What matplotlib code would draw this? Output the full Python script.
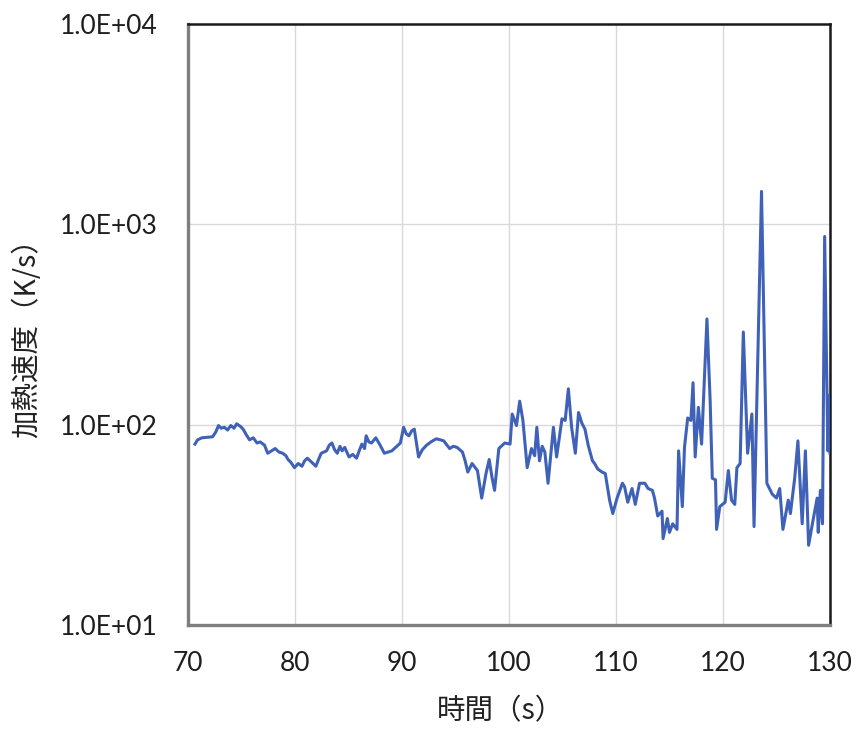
import matplotlib
matplotlib.use("Agg")
import matplotlib.pyplot as plt
from matplotlib.ticker import FixedLocator, FixedFormatter, NullLocator

time_s = [70.65, 70.9, 71.3, 72.3, 72.6, 72.85, 73.1, 73.4, 73.7, 74.0, 74.3, 74.55, 74.9,
          75.15, 75.45, 75.75, 76.1, 76.45, 76.75, 77.15, 77.45, 77.8, 78.15, 78.5, 78.85,
          79.15, 79.35, 79.6, 79.95, 80.3, 80.65, 80.9, 81.15, 81.55, 81.95, 82.2, 82.45,
          82.95, 83.2, 83.45, 83.7, 83.95, 84.2, 84.4, 84.65, 85.05, 85.4, 85.75, 86.0,
          86.25, 86.5, 86.65, 86.9, 87.15, 87.55, 87.9, 88.35, 88.7, 89.05, 89.4, 89.85,
          90.15, 90.4, 90.65, 90.9, 91.15, 91.55, 91.9, 92.3, 92.7, 93.2, 93.6, 93.9,
          94.45, 94.8, 95.15, 95.65, 95.9, 96.15, 96.55, 97.05, 97.45, 97.85, 98.15, 98.4,
          98.65, 99.05, 99.6, 100.1, 100.3, 100.7, 101.0, 101.3, 101.7, 102.1, 102.4, 102.6,
          102.85, 103.1, 103.35, 103.65, 104.15, 104.45, 104.95, 105.25, 105.55, 105.85,
          106.2, 106.5, 106.8, 107.1, 107.4, 107.8, 108.0, 108.3, 108.7, 109.0, 109.2,
          109.4, 109.7, 110.1, 110.6, 110.8, 111.1, 111.5, 111.8, 112.2, 112.7, 113.0,
          113.4, 113.6, 113.9, 114.3, 114.4, 114.8, 115.0, 115.3, 115.7, 115.85, 116.2,
          116.4, 116.7, 117.0, 117.2, 117.4, 117.7, 118.0, 118.5, 118.8, 119.0, 119.3,
          119.4, 119.7, 120.2, 120.5, 120.8, 121.1, 121.3, 121.6, 121.9, 122.3, 122.7,
          122.9, 123.6, 124.1, 124.6, 125.0, 125.3, 125.6, 126.1, 126.3, 126.7, 127.0,
          127.4, 127.7, 128.0, 128.4, 128.8, 128.9, 129.1, 129.3, 129.5, 129.8, 129.9, 130.0]

heating_rate = [80, 84, 86, 87, 92, 99, 96, 97, 94, 99, 96, 101, 98,
                95, 89, 84, 86, 81, 82, 79, 72, 74, 76, 73, 72,
                70, 67, 65, 61, 64, 62, 66, 68, 65, 62, 67, 72,
                74, 79, 81, 75, 72, 78, 74, 77, 69, 71, 68, 74,
                80, 76, 88, 82, 81, 86, 80, 72, 73, 74, 77, 81,
                97, 90, 88, 93, 95, 69, 75, 79, 82, 85, 84, 83,
                76, 78, 77, 73, 66, 58, 64, 59, 43, 57, 67, 55,
                47, 76, 81, 80, 113, 99, 131, 105, 61, 76, 70, 97,
                66, 78, 73, 51, 97, 69, 107, 105, 151, 97,
                72, 115, 102, 95, 79, 66, 64, 60, 58, 57, 49,
                42, 36, 43, 51, 49, 41, 48, 40, 51, 51, 48,
                47, 43, 35, 37, 27, 34, 29, 32, 30, 74, 39,
                77, 108, 105, 162, 69, 122, 80, 337, 131, 54, 53,
                30, 39, 41, 59, 42, 40, 61, 64, 290, 72, 113,
                31, 1460, 51, 45, 43, 48, 30, 42, 36, 54, 83,
                32, 74, 25, 33, 43, 29, 47, 32, 870, 74, 140, 72]

x_ticks = [70, 80, 90, 100, 110, 120, 130]
y_ticks = [10, 100, 1000, 10000]
y_tick_labels = ["1.0E+01", "1.0E+02", "1.0E+03", "1.0E+04"]
x_label = "時間（s）"
y_label = "加熱速度（K/s）"

W, H = 859, 733
fig = plt.figure(figsize=(W / 100, H / 100), dpi=100)
ax_l, ax_r, ax_t, ax_b = 188, 830, 24, 625
ax = fig.add_axes([ax_l / W, 1 - ax_b / H, (ax_r - ax_l) / W, (ax_b - ax_t) / H])

ax.plot(time_s, heating_rate, color="#3f62b8", lw=2.2, zorder=3,
        solid_joinstyle="round")
ax.set_yscale("log")
ax.set_xlim(70, 130)
ax.set_ylim(10, 10000)

ax.xaxis.set_major_locator(FixedLocator(x_ticks))
ax.yaxis.set_major_locator(FixedLocator(y_ticks))
ax.yaxis.set_major_formatter(FixedFormatter(y_tick_labels))
ax.yaxis.set_minor_locator(NullLocator())
ax.grid(True, color="#d9d9d9", lw=1.0, zorder=0)
ax.set_axisbelow(True)

tick_font = ["Lato", "DejaVu Sans"]
ax.tick_params(axis="both", length=0, labelsize=19, colors="#1e1e1e")
ax.tick_params(axis="y", pad=22)
ax.tick_params(axis="x", pad=19)
for lab in ax.get_xticklabels() + ax.get_yticklabels():
    lab.set_family(tick_font)

for side in ["left", "bottom"]:
    ax.spines[side].set_color("#7f7f7f")
    ax.spines[side].set_linewidth(2.4)
for side in ["top", "right"]:
    ax.spines[side].set_color("#1a1a1a")
    ax.spines[side].set_linewidth(1.8)

cjk = ["Noto Sans CJK JP", "DejaVu Sans"]
fig.text(27 / W, 1 - 331 / H, y_label, rotation=90, ha="center", va="center",
         fontsize=20.5, family=cjk, color="#222222")
fig.text(500 / W, 1 - 711 / H, x_label, ha="center", va="center",
         fontsize=20.5, family=cjk, color="#222222")

fig.savefig("out.png", dpi=100)
